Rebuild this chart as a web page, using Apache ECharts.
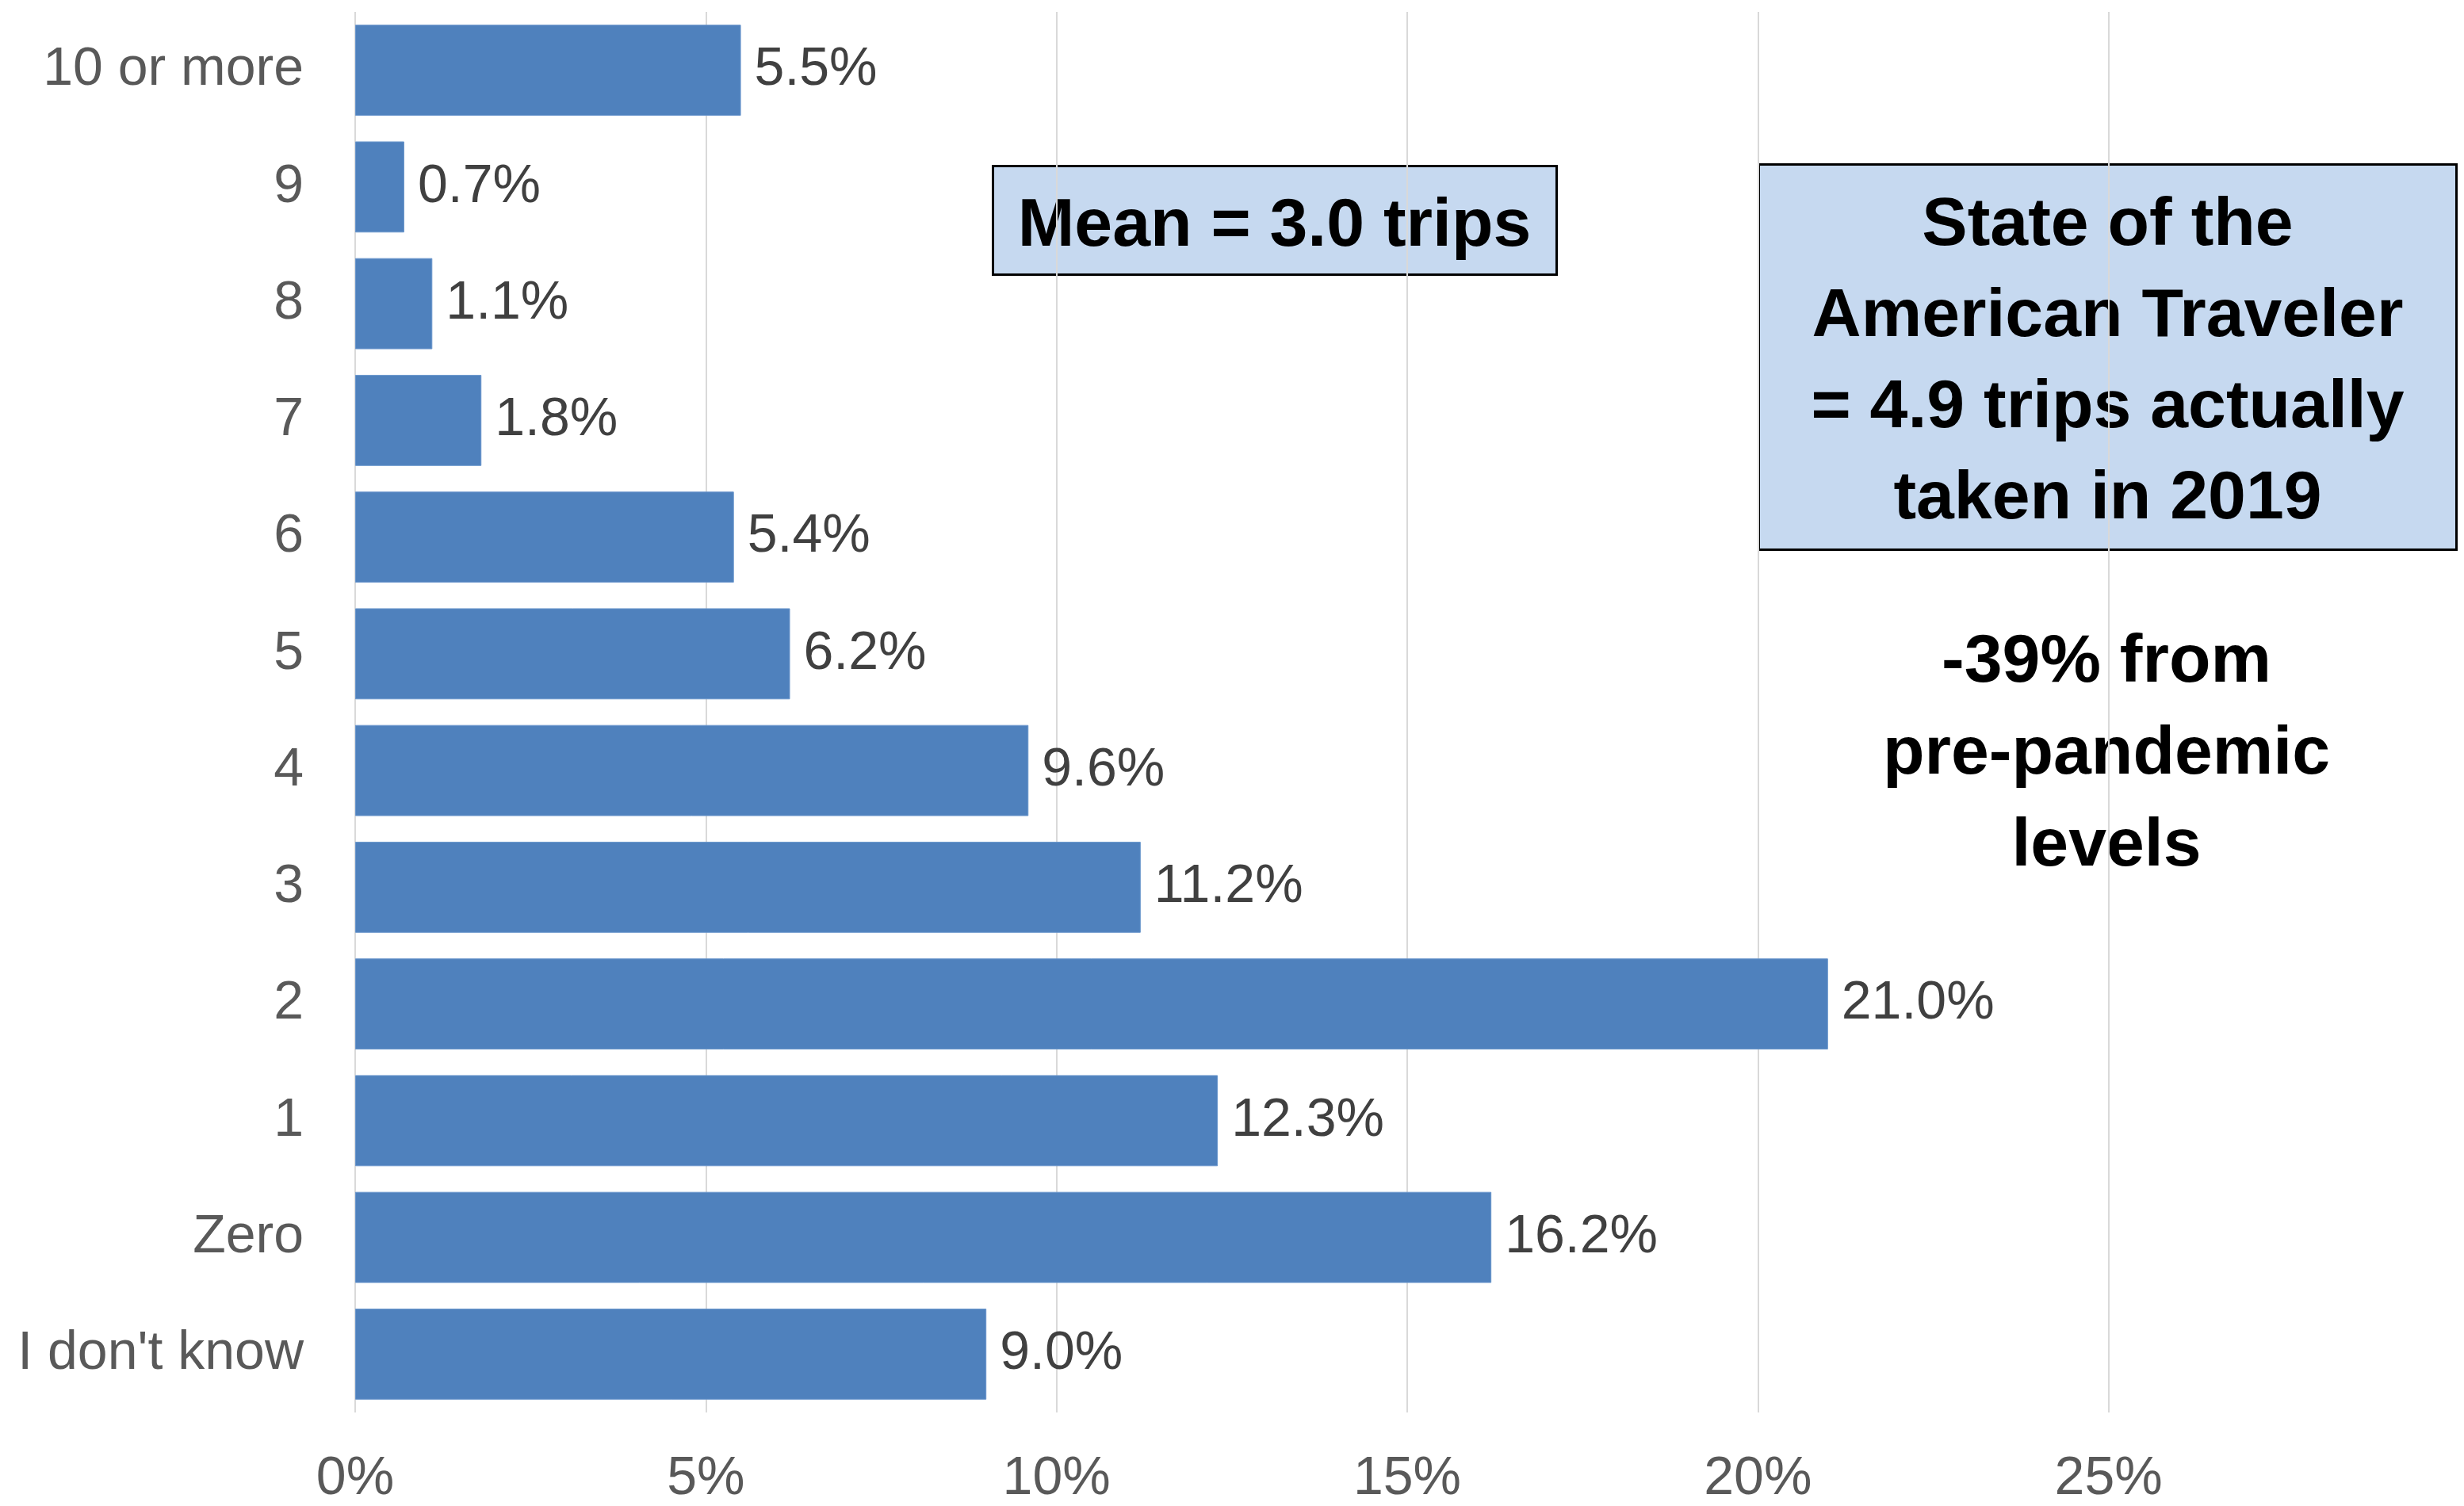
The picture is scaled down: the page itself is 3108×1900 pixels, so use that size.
<!DOCTYPE html>
<html>
<head>
<meta charset="utf-8">
<title>Trips distribution</title>
<script src="https://cdn.jsdelivr.net/npm/echarts@6/dist/echarts.min.js"></script>
<style>
  html, body { margin: 0; padding: 0; background: #ffffff; }
  #chart { width: 3108px; height: 1900px; }
</style>
</head>
<body>
<div id="chart"></div>
<script>
// Number of trips, listed top to bottom
const categories = ['10 or more', '9', '8', '7', '6', '5', '4', '3', '2', '1', 'Zero', "I don't know"];
// Share of respondents (%)
const shares = [5.5, 0.7, 1.1, 1.8, 5.4, 6.2, 9.6, 11.2, 21.0, 12.3, 16.2, 9.0];
// Percent axis ticks
const axisTicks = [0, 5, 10, 15, 20, 25, 30];

const meanText = 'Mean = 3.0 trips';
const benchmarkLines = ['State of the', 'American Traveler', '= 4.9 trips actually', 'taken in 2019'];
const changeLines = ['-39% from', 'pre-pandemic', 'levels'];

const FONT = '"Liberation Sans", Arial, sans-serif';

const chart = echarts.init(document.getElementById('chart'), null, { renderer: 'canvas' });

chart.setOption({
  backgroundColor: '#ffffff',
  animation: false,
  grid: {
    left: 448, right: 6, top: 15, bottom: 118,
    containLabel: false,
    outerBoundsMode: 'none',
    outerBounds: { left: -500, right: -500, top: -500, bottom: -500 }
  },
  xAxis: {
    type: 'value',
    min: axisTicks[0],
    max: axisTicks[axisTicks.length - 1],
    interval: axisTicks[1] - axisTicks[0],
    axisLine: { show: false },
    axisTick: { show: false },
    splitLine: { show: true, showMaxLine: false, lineStyle: { color: '#d9d9d9', width: 2 } },
    axisLabel: {
      showMaxLabel: false,
      margin: 50,
      lineHeight: 68,
      color: '#595959',
      fontFamily: FONT,
      fontSize: 68,
      formatter: v => v + '%'
    }
  },
  yAxis: {
    type: 'category',
    data: categories,
    inverse: true,
    axisLine: { show: false },
    axisTick: { show: false },
    splitLine: { show: false },
    axisLabel: {
      margin: 65,
      padding: [6, 0, 0, 0],
      color: '#595959',
      fontFamily: FONT,
      fontSize: 68
    }
  },
  series: [{
    type: 'bar',
    data: shares,
    barCategoryGap: '22%',
    itemStyle: { color: '#4f81bd', borderColor: '#6a96cc', borderWidth: 1 },
    label: {
      show: true,
      position: 'right',
      distance: 17,
      padding: [6, 0, 0, 0],
      color: '#404040',
      fontFamily: FONT,
      fontSize: 68,
      formatter: p => p.value.toFixed(1) + '%'
    }
  }],
  graphic: [
    {
      type: 'group',
      left: 1251,
      top: 208,
      children: [
        {
          type: 'rect',
          shape: { x: 0, y: 0, width: 711, height: 137 },
          style: { fill: '#c6d9f0', stroke: '#000000', lineWidth: 3 }
        },
        {
          type: 'text',
          x: 355, y: 77,
          style: {
            text: meanText,
            fill: '#000000',
            font: 'bold 86px ' + FONT,
            textAlign: 'center',
            textVerticalAlign: 'middle'
          }
        }
      ]
    },
    {
      type: 'group',
      left: 2217,
      top: 206,
      children: [
        {
          type: 'rect',
          shape: { x: 0, y: 0, width: 880, height: 486 },
          style: { fill: '#c6d9f0', stroke: '#000000', lineWidth: 3 }
        },
        {
          type: 'text',
          x: 440, y: 250,
          style: {
            text: benchmarkLines.join('\n'),
            fill: '#000000',
            font: 'bold 86px ' + FONT,
            lineHeight: 115,
            textAlign: 'center',
            textVerticalAlign: 'middle'
          }
        }
      ]
    },
    {
      type: 'text',
      x: 2657, y: 952,
      style: {
        text: changeLines.join('\n'),
        fill: '#000000',
        font: 'bold 86px ' + FONT,
        lineHeight: 116,
        textAlign: 'center',
        textVerticalAlign: 'middle'
      }
    }
  ]
});
</script>
</body>
</html>
